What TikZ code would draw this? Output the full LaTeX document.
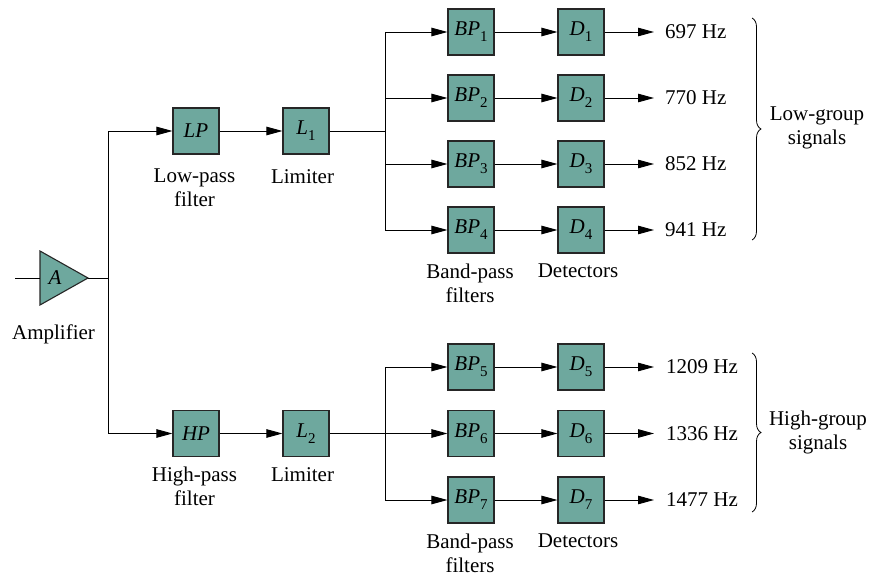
\documentclass[tikz,border=0pt]{standalone}
\usepackage{fontspec}
\setmainfont{Liberation Serif}
\usetikzlibrary{arrows.meta,decorations.pathreplacing}
\definecolor{boxfill}{RGB}{110,168,158}
\newcommand{\lsub}[1]{\raisebox{-0.28em}{\fontsize{15}{15}\selectfont #1}}
\begin{document}
\begin{tikzpicture}[x=1pt,y=-1pt,
  every node/.style={font=\fontsize{21}{24}\selectfont\rmfamily},
  blk/.style={draw=black!85, fill=boxfill, line width=1.1pt, minimum size=46pt, inner sep=0pt},
  wire/.style={line width=0.9pt},
  arr/.style={wire, -{Triangle[length=16pt,width=8.5pt]}},
  lbl/.style={align=center, inner sep=0pt, anchor=north},
  freq/.style={anchor=west, inner sep=0pt},
  brc/.style={decorate, decoration={brace, amplitude=9pt}, line width=0.8pt}]
\useasboundingbox (0,0) rectangle (871,578);

% amplifier
\draw[fill=boxfill, line width=1.1pt, draw=black!85] (40,251) -- (88,278) -- (40,305) -- cycle;
\node (A) at (55,278) {\textit{A}};
\coordinate (src) at (15,278);
\coordinate (ampin) at (40,278);
\coordinate (ampout) at (88,278);
\coordinate (j0) at (108,278);
\coordinate (jl) at (108,131);
\coordinate (jh) at (108,433.5);
\node[lbl] (ampl) at (53.5,325) {Amplifier};
\draw[wire] (src) -- (ampin);
\draw[wire] (ampout) -- (j0);

% filters and limiters
\node[blk] (LP) at (196,131) {\textit{LP}};
\node[blk] (L1) at (306,131) {\textit{L}\lsub{1}};
\node[blk] (HP) at (196,433.5) {\textit{HP}};
\node[blk] (L2) at (306,433.5) {\textit{L}\lsub{2}};
\node[lbl] (lpl) at (194.5,169) {Low-pass\\filter};
\node[lbl] (lim1) at (302.5,169) {Limiter};
\node[lbl] (hpl) at (194.5,467) {High-pass\\filter};
\node[lbl] (lim2) at (302.5,467) {Limiter};
\draw[arr] (j0) -- (jl) -- (LP);
\draw[arr] (j0) -- (jh) -- (HP);
\draw[arr] (LP) -- (L1);
\draw[arr] (HP) -- (L2);

% low group
\coordinate (bl) at (385,131);
\draw[wire] (L1) -- (bl);
\foreach \i/\y/\f in {1/32/697,2/98/770,3/164/852,4/230/941}{
  \node[blk] (BP\i) at (471,\y) {\textit{BP}\lsub{\i}};
  \node[blk] (D\i) at (581,\y) {\textit{D}\lsub{\i}};
  \coordinate (bl\i) at (385,\y);
  \coordinate (o\i) at (654,\y);
  \node[freq] (f\i) at (665,\y) {\f\ Hz};
  \draw[arr] (bl\i) -- (BP\i);
  \draw[arr] (BP\i) -- (D\i);
  \draw[arr] (D\i) -- (o\i);
}
\draw[wire] (bl1) -- (bl4);
\node[lbl] (bpl1) at (470,264) {Band-pass\\filters};
\node[lbl] (det1) at (578,264) {Detectors};

% high group
\coordinate (bh) at (385,433.5);
\draw[wire] (L2) -- (bh);
\foreach \i/\y/\f in {5/367/1209,6/433.5/1336,7/500/1477}{
  \node[blk] (BP\i) at (471,\y) {\textit{BP}\lsub{\i}};
  \node[blk] (D\i) at (581,\y) {\textit{D}\lsub{\i}};
  \coordinate (bh\i) at (385,\y);
  \coordinate (o\i) at (654,\y);
  \node[freq] (f\i) at (666,\y) {\f\ Hz};
  \draw[arr] (bh\i) -- (BP\i);
  \draw[arr] (BP\i) -- (D\i);
  \draw[arr] (D\i) -- (o\i);
}
\draw[wire] (bh5) -- (bh7);
\node[lbl] (bpl2) at (470,534) {Band-pass\\filters};
\node[lbl] (det2) at (578,534) {Detectors};

% braces
\coordinate (lbt) at (752,18);
\coordinate (lbb) at (752,240);
\coordinate (hbt) at (752,353);
\coordinate (hbb) at (752,512);
\draw[brc] (lbt) -- (lbb);
\draw[brc] (hbt) -- (hbb);
\node[align=center, inner sep=0pt] (lgs) at (817,128) {Low-group\\signals};
\node[align=center, inner sep=0pt] (hgs) at (818,432) {High-group\\signals};
\end{tikzpicture}
\end{document}
